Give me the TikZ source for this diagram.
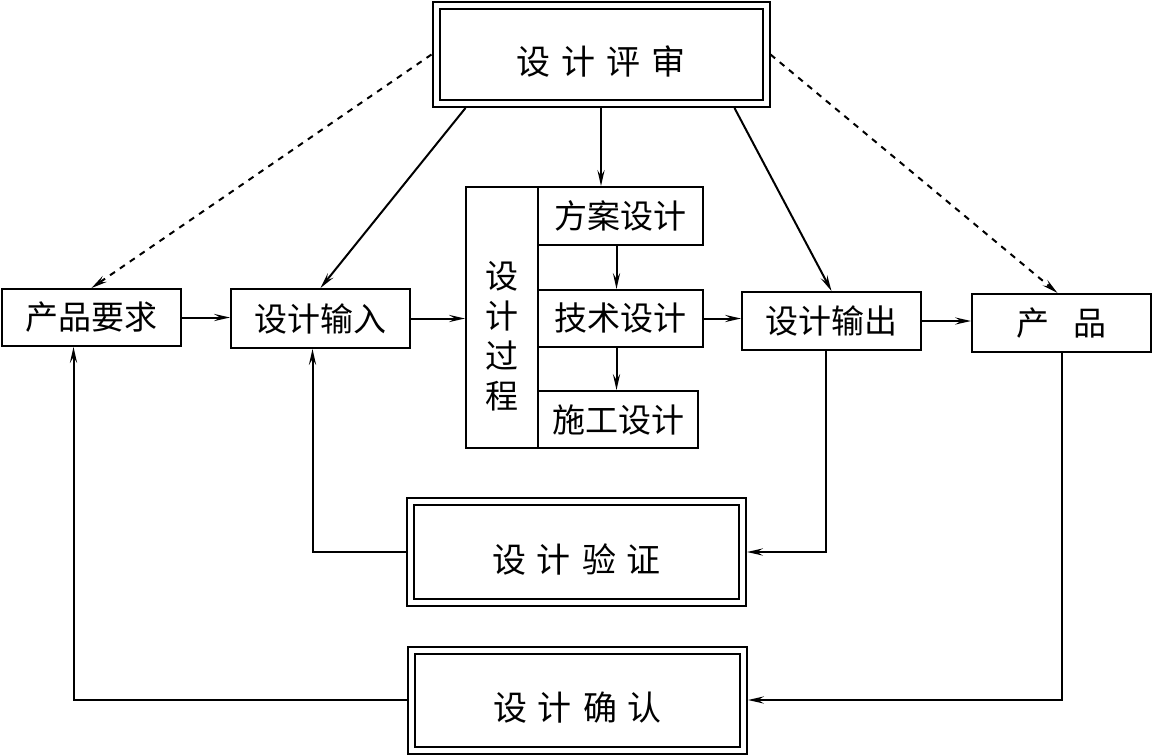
\documentclass[tikz,border=0pt]{standalone}
\usepackage{fontspec}
\setmainfont{Noto Sans CJK SC}
\usetikzlibrary{arrows.meta}

\begin{document}
\begin{tikzpicture}[x=0.5pt, y=-0.5pt, line width=1pt,
  box/.style={draw, inner sep=0pt, font=\fontsize{16.5}{19}\selectfont},
  dbox/.style={box, double, double distance=2.5pt, outer sep=2.25pt,
    text height=20pt, text depth=0pt, font=\fontsize{17}{19}\selectfont},
  arr/.style={-{Stealth[length=8pt,width=3.6pt,inset=3pt]}}]

\def\g{\hspace{5.5pt}}

\useasboundingbox (0,0) rectangle (1153,756);

% review
\node[dbox, minimum width=165pt, minimum height=49pt] (rev) at (601,54.5) {设\g 计\g 评\g 审};

% row
\node[box, minimum width=89.5pt, minimum height=28.5pt] (req)  at (91.5,317.5)  {产品要求};
\node[box, minimum width=89.5pt, minimum height=29.5pt] (in)   at (320.5,318.5) {设计输入};
\node[box, minimum width=89.5pt, minimum height=29pt]   (out)  at (831.5,321)   {设计输出};
\node[box, minimum width=89.5pt, minimum height=29pt]   (prod) at (1061.5,323)  {产\hspace{12pt}品};

% process
\node[box, minimum width=36pt, minimum height=130.5pt] (proc) at (502,317.5) {};
\node[align=center, inner sep=0pt, font=\fontsize{16.5}{20}\selectfont] (proct) at (502,336) {设\\计\\过\\程};
\node[box, minimum width=82.5pt, minimum height=29pt]   (fa) at (620.5,216)   {方案设计};
\node[box, minimum width=82.5pt, minimum height=28.5pt] (js) at (620.5,318.5) {技术设计};
\node[box, minimum width=80pt,   minimum height=28.5pt] (sg) at (618,419.5)   {施工设计};

% checks
\node[dbox, minimum width=166pt, minimum height=50.5pt] (ver)  at (576.5,552) {设\g 计\g 验\g 证};
\node[dbox, minimum width=166pt, minimum height=50pt]   (conf) at (577.5,700) {设\g 计\g 确\g 认};

% links
\draw[arr, dashed] (rev.west) -- (req.north);
\draw[arr, dashed] (rev.east) -- ([xshift=-2pt]prod.north);
\draw[arr] (rev.south west) ++(34,0) -- (in.north);
\draw[arr] (rev.south east) ++(-36,0) -- (out.north);
\draw[arr] (rev.south) -- (rev.south |- fa.north);

\draw[arr] (req.east) -- (req.east -| in.west);
\draw[arr] (in.east) -- (in.east -| proc.west);
\draw[arr] ([xshift=-2pt]fa.south) -- ([xshift=-2pt]js.north);
\draw[arr] ([xshift=-2pt]js.south) -- ([xshift=-2pt]js.south |- sg.north);
\draw[arr] (js.east) -- (js.east -| out.west);
\draw[arr] (out.east) -- (out.east -| prod.west);

% feedback
\draw[arr] ([xshift=-3pt]out.south) |- (ver.east);
\draw[arr] (ver.west) -| ([xshift=-4pt]in.south);
\draw[arr] (prod.south) |- (conf.east);
\draw[arr] (conf.west) -| ([xshift=-9pt]req.south);

\end{tikzpicture}
\end{document}
